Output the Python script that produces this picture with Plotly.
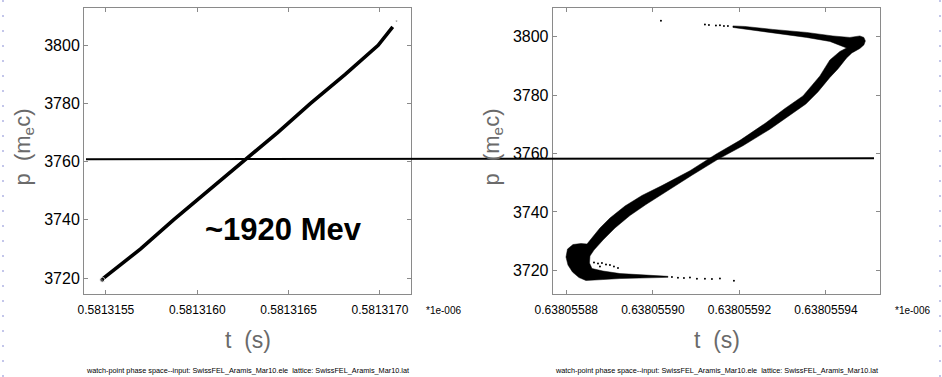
import plotly.graph_objects as go

# ---------------- data ----------------
# left panel: t in units of 1e-6 s, p in m_e c
left_t = [0.58131548, 0.58131569, 0.58131587, 0.58131606, 0.58131625, 0.58131644,
          0.58131662, 0.58131681, 0.58131699, 0.58131703, 0.58131707]
left_p = [3719.6, 3730.0, 3740.0, 3750.0, 3760.0, 3770.0,
          3780.0, 3790.0, 3800.0, 3803.0, 3806.3]
left_tip_t = [0.58131548, 0.58131709]
left_tip_p = [3719.4, 3808.3]

# right panel: outline of the dense particle band (t in units of 1e-6 s)
right_band_t = [
    0.63805588155, 0.63805588339, 0.63805588478, 0.63805588594, 0.63805588778,
    0.63805589009, 0.63805589356, 0.63805589748, 0.63805590210, 0.63805590857,
    0.63805591457, 0.63805592012, 0.63805592612, 0.63805593051, 0.63805593467,
    0.63805593674, 0.63805593859, 0.63805594090, 0.63805594321, 0.63805594476,
    0.63805594390, 0.63805594090, 0.63805593552, 0.63805592774, 0.63805592127,
    0.63805591850, 0.63805591850, 0.63805592127, 0.63805592774, 0.63805593552,
    0.63805594159, 0.63805594552, 0.63805594783, 0.63805594875, 0.63805594910,
    0.63805594875, 0.63805594783, 0.63805594598, 0.63805594476, 0.63805594275,
    0.63805594090, 0.63805593813, 0.63805593536, 0.63805593166, 0.63805592704,
    0.63805592081, 0.63805591503, 0.63805590903, 0.63805590279, 0.63805589841,
    0.63805589471, 0.63805589125, 0.63805588848, 0.63805588640, 0.63805588547,
    0.63805588536, 0.63805588594, 0.63805588848, 0.63805589240, 0.63805589610,
    0.63805590002, 0.63805590349, 0.63805590349, 0.63805590002, 0.63805589610,
    0.63805589240, 0.63805588848, 0.63805588455, 0.63805588293, 0.63805588143,
    0.63805588039, 0.63805587993, 0.63805588028, 0.63805588155]
right_band_p = [
    3728.84, 3729.18, 3729.01, 3731.06, 3734.49,
    3737.91, 3742.02, 3745.62, 3749.00, 3754.10,
    3759.75, 3764.50, 3770.50, 3775.40, 3779.69,
    3783.29, 3786.54, 3792.02, 3794.93, 3796.13,
    3796.64, 3798.36, 3799.73, 3801.27, 3802.47,
    3803.15, 3803.67, 3803.49, 3802.47, 3801.44,
    3800.24, 3799.73, 3800.24, 3799.73, 3798.53,
    3797.16, 3795.96, 3794.42, 3792.71, 3788.94,
    3786.03, 3781.06, 3776.95, 3773.05, 3768.30,
    3762.65, 3758.00, 3752.55, 3746.80, 3742.53,
    3738.77, 3734.49, 3730.38, 3726.95, 3724.90,
    3722.50, 3720.62, 3719.76, 3718.90, 3718.63,
    3718.32, 3717.95, 3717.60, 3717.50, 3717.36,
    3717.19, 3716.85, 3716.51, 3717.53, 3719.42,
    3721.82, 3724.55, 3727.29, 3728.84]

# right panel: sparse particles in the tails
right_dots_t = [
    0.63805590187, 0.63805591203, 0.63805591296, 0.63805591457, 0.63805591550,
    0.63805591642, 0.63805591734,
    0.63805590441, 0.63805590580, 0.63805590718, 0.63805590857, 0.63805591018,
    0.63805591203, 0.63805591365, 0.63805591550, 0.63805591873,
    0.63805588640, 0.63805588732, 0.63805588824, 0.63805588917, 0.63805589009,
    0.63805589101, 0.63805589194, 0.63805588778]
right_dots_p = [
    3805.48, 3804.18, 3804.01, 3803.84, 3803.91,
    3803.67, 3803.60,
    3717.71, 3717.43, 3717.36, 3717.53, 3717.16,
    3717.16, 3717.02, 3717.19, 3716.44,
    3722.67, 3722.33, 3722.50, 3721.99, 3721.82,
    3721.30, 3720.79, 3721.30]

p_ticks = [3720, 3740, 3760, 3780, 3800]
left_xticks = [0.5813155, 0.5813160, 0.5813165, 0.5813170]
left_xticklabels = ["0.5813155", "0.5813160", "0.5813165", "0.5813170"]
right_xticks = [0.63805588, 0.63805590, 0.63805592, 0.63805594]
right_xticklabels = ["0.63805588", "0.63805590", "0.63805592", "0.63805594"]

left_xrange = [0.58131538, 0.58131717]
right_xrange = [0.63805587686, 0.63805595248]
left_prange = [3714.5, 3812.7]
right_prange = [3711.9, 3809.7]

footer = "watch-point phase space--input: SwissFEL_Aramis_Mar10.ele  lattice: SwissFEL_Aramis_Mar10.lat"

# ---------------- figure ----------------
W, H = 942, 377
FONT = "Liberation Sans, Arial, sans-serif"

fig = go.Figure()
fig.add_trace(go.Scatter(x=left_t, y=left_p, mode="lines",
                         line=dict(color="black", width=3.6),
                         xaxis="x", yaxis="y", hoverinfo="skip"))
fig.add_trace(go.Scatter(x=left_tip_t, y=left_tip_p, mode="markers",
                         marker=dict(color="black", size=[5, 2]),
                         xaxis="x", yaxis="y", hoverinfo="skip"))
fig.add_trace(go.Scatter(x=right_band_t, y=right_band_p, mode="lines",
                         fill="toself", fillcolor="black",
                         line=dict(color="black", width=0.5),
                         xaxis="x2", yaxis="y2", hoverinfo="skip"))
fig.add_trace(go.Scatter(x=right_dots_t, y=right_dots_p, mode="markers",
                         marker=dict(color="black", size=2),
                         xaxis="x2", yaxis="y2", hoverinfo="skip"))

ydom = [1 - 294 / H, 1 - 8.3 / H]
axis_common = dict(showgrid=False, zeroline=False, showline=True, mirror="ticks",
                   linecolor="#8a8a8a", linewidth=1, ticks="inside", ticklen=4,
                   tickcolor="#8a8a8a", automargin=False)
xtick_font = dict(family=FONT, size=12, color="black")
ytick_font = dict(family=FONT, size=16, color="black")

fig.update_layout(
    width=W, height=H, margin=dict(l=0, r=0, t=0, b=0, autoexpand=False),
    paper_bgcolor="white", plot_bgcolor="white", showlegend=False,
    xaxis=dict(domain=[84 / W, 411 / W], range=left_xrange, anchor="y",
               tickmode="array", tickvals=left_xticks, ticktext=left_xticklabels,
               tickfont=xtick_font, ticklabelstandoff=5, **axis_common),
    yaxis=dict(domain=ydom, range=left_prange, anchor="x",
               tickmode="array", tickvals=p_ticks, tickfont=ytick_font, **axis_common),
    xaxis2=dict(domain=[552.7 / W, 880 / W], range=right_xrange, anchor="y2",
                tickmode="array", tickvals=right_xticks, ticktext=right_xticklabels,
                tickfont=xtick_font, ticklabelstandoff=5, **axis_common),
    yaxis2=dict(domain=ydom, range=right_prange, anchor="x2",
                tickmode="array", tickvals=p_ticks, tickfont=ytick_font, **axis_common),
)

def px(x):
    return x / W

def py(y):
    return 1 - y / H

ann = []
def add_text(cx, cy, text, size, color="black", angle=0):
    ann.append(dict(x=px(cx), y=py(cy), xref="paper", yref="paper", text=text,
                    showarrow=False, textangle=angle, xanchor="center", yanchor="middle",
                    font=dict(family=FONT, size=size, color=color)))

for cx in (247.5, 716.5):
    add_text(cx, 340, "t  (s)", 23, "#6a6a6a")
    add_text(cx, 370.5, footer, 7.3)
for cx in (24, 493):
    add_text(cx, 147.5, "p  (m<sub>e</sub>c)", 22, "#6a6a6a", -90)
for cx in (443.5, 912.5):
    add_text(cx, 310, "*1e-006", 10)
add_text(283, 229, "<b>~1920 Mev</b>", 31)
fig.update_layout(annotations=ann)

shapes = [
    dict(type="line", xref="paper", yref="paper", x0=px(86), y0=py(159.3),
         x1=px(874), y1=py(158.3), line=dict(color="black", width=2)),
    dict(type="line", xref="paper", yref="paper", x0=px(3), y0=0, x1=px(3), y1=1,
         line=dict(color="#c3c6ea", width=2, dash="2px,13px")),
    dict(type="line", xref="paper", yref="paper", x0=px(940), y0=0, x1=px(940), y1=1,
         line=dict(color="#c3c6ea", width=2, dash="2px,13px")),
]
fig.update_layout(shapes=shapes)

fig.write_html("out.html", config={"displayModeBar": False},
               post_script="document.body.style.margin='0px';document.body.style.padding='0px';")
